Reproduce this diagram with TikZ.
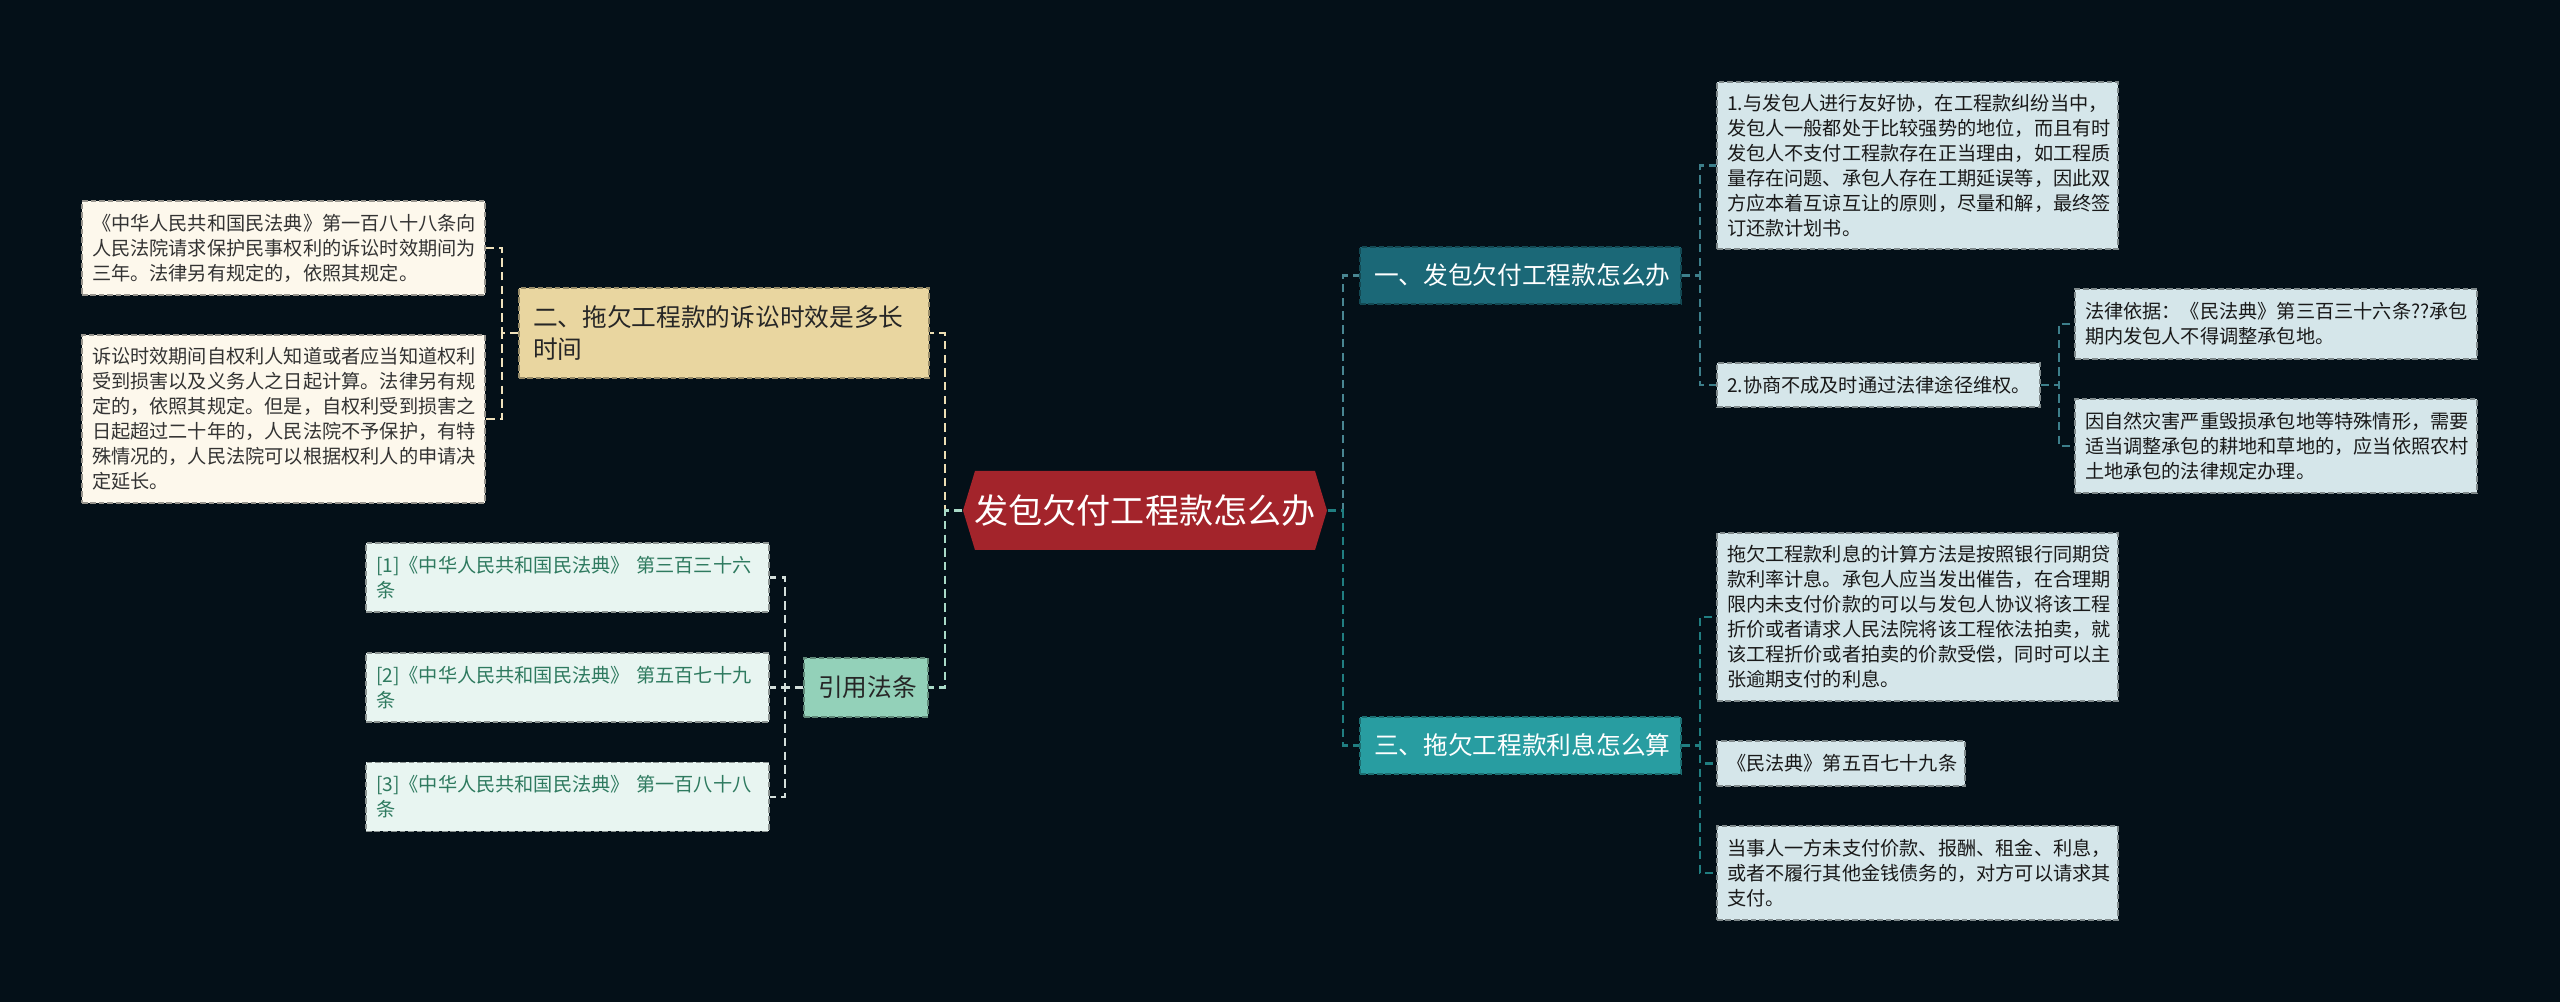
\documentclass[tikz,border=0pt]{standalone}
\usepackage{fontspec}
\setmainfont{Noto Sans CJK SC}
\usepackage{tikz}
\usetikzlibrary{calc, positioning}
\usepackage{xcolor}
\definecolor{bgDark}{RGB}{4, 16, 24}
\definecolor{ctrRed}{RGB}{163, 36, 43}
\definecolor{headOne}{RGB}{27, 104, 119}
\definecolor{headTwo}{RGB}{233, 214, 160}
\definecolor{headThree}{RGB}{40, 157, 161}
\definecolor{citeGreen}{RGB}{147, 209, 185}
\definecolor{leafCream}{RGB}{253, 248, 236}
\definecolor{leafMint}{RGB}{232, 245, 241}
\definecolor{leafBlue}{RGB}{213, 230, 234}
\definecolor{citeText}{RGB}{46, 122, 95}

\begin{document}
\begin{tikzpicture}[
  box/.style 2 args={minimum width=#1cm, minimum height=#2cm, text width={(#1-0.2)*1cm}},
  hbox/.style 2 args={minimum width=#1cm, minimum height=#2cm, text width={(#1-0.28)*1cm}},
  leaf/.style={draw, dashed, dash pattern=on 1.6pt off 0.8pt, line width=0.4pt,
    inner xsep=0.09cm, inner ysep=0pt, align=left,
    font=\fontsize{5.46pt}{7.1pt}\selectfont},
  head/.style={leaf, inner xsep=0.13cm, font=\fontsize{7.03pt}{9.1pt}\selectfont},
  link/.style={dashed, dash pattern=on 2.4pt off 1.5pt, line width=0.6pt},
]
  \useasboundingbox (0, 0) rectangle (25.6, 10.02);
  \fill[bgDark] (0, 0) rectangle (25.6, 10.02);

  % centre topic
  \node[minimum width=3.64cm, minimum height=0.79cm, inner xsep=0.1cm, text=white,
    font=\fontsize{9.7pt}{12pt}\selectfont,
    path picture={\fill[ctrRed]
      ($(path picture bounding box.north west)+(0.12, 0)$) --
      ($(path picture bounding box.north east)+(-0.12, 0)$) --
      ($(path picture bounding box.east)$) --
      ($(path picture bounding box.south east)+(-0.12, 0)$) --
      ($(path picture bounding box.south west)+(0.12, 0)$) --
      ($(path picture bounding box.west)$) -- cycle;}]
    (ctr) at (11.45, 4.915) {发包欠付工程款怎么办};

  % main branches
  \node[head, hbox={3.21}{0.57}, fill=headOne, draw=headOne!70!black, text=white]
    (h1) at (15.205, 7.265) {一、发包欠付工程款怎么办};
  \node[head, hbox={4.10}{0.90}, fill=headTwo, draw=headTwo!65!black, text=black!85]
    (h2) at (7.24, 6.69) {二、拖欠工程款的诉讼时效是多长\\时间};
  \node[head, hbox={3.21}{0.57}, fill=headThree, draw=headThree!70!black, text=white]
    (h3) at (15.205, 2.565) {三、拖欠工程款利息怎么算};
  \node[head, hbox={1.24}{0.59}, fill=citeGreen, draw=citeGreen!65!black, text=black!85]
    (cite) at (8.66, 3.145) {引用法条};

  % leaves of branch two
  \node[leaf, box={4.03}{0.94}, fill=leafCream, draw=leafCream!60!black, text=black!80]
    (a1) at (2.835, 7.54) {《中华人民共和国民法典》第一百八十八条向\\人民法院请求保护民事权利的诉讼时效期间为\\三年。法律另有规定的，依照其规定。};
  \node[leaf, box={4.03}{1.68}, fill=leafCream, draw=leafCream!60!black, text=black!80]
    (a2) at (2.835, 5.83) {诉讼时效期间自权利人知道或者应当知道权利\\受到损害以及义务人之日起计算。法律另有规\\定的，依照其规定。但是，自权利受到损害之\\日起超过二十年的，人民法院不予保护，有特\\殊情况的，人民法院可以根据权利人的申请决\\定延长。};

  % cited articles
  \node[leaf, box={4.03}{0.69}, fill=leafMint, draw=leafMint!60!black, text=citeText]
    (c1) at (5.675, 4.245) {[1]《中华人民共和国民法典》 第三百三十六\\条};
  \node[leaf, box={4.03}{0.69}, fill=leafMint, draw=leafMint!60!black, text=citeText]
    (c2) at (5.675, 3.145) {[2]《中华人民共和国民法典》 第五百七十九\\条};
  \node[leaf, box={4.03}{0.69}, fill=leafMint, draw=leafMint!60!black, text=citeText]
    (c3) at (5.675, 2.05) {[3]《中华人民共和国民法典》 第一百八十八\\条};

  % leaves of branch one
  \node[leaf, box={4.01}{1.67}, fill=leafBlue, draw=leafBlue!60!black, text=black!90]
    (b1) at (19.175, 8.365) {1.与发包人进行友好协，在工程款纠纷当中，\\发包人一般都处于比较强势的地位，而且有时\\发包人不支付工程款存在正当理由，如工程质\\量存在问题、承包人存在工期延误等，因此双\\方应本着互谅互让的原则，尽量和解，最终签\\订还款计划书。};
  \node[leaf, box={3.23}{0.44}, fill=leafBlue, draw=leafBlue!60!black, text=black!90]
    (b2) at (18.785, 6.17) {2.协商不成及时通过法律途径维权。};
  \node[leaf, box={4.02}{0.70}, fill=leafBlue, draw=leafBlue!60!black, text=black!90]
    (b2a) at (22.76, 6.78) {法律依据：《民法典》第三百三十六条??承包\\期内发包人不得调整承包地。};
  \node[leaf, box={4.02}{0.94}, fill=leafBlue, draw=leafBlue!60!black, text=black!90]
    (b2b) at (22.76, 5.56) {因自然灾害严重毁损承包地等特殊情形，需要\\适当调整承包的耕地和草地的，应当依照农村\\土地承包的法律规定办理。};

  % leaves of branch three
  \node[leaf, box={4.01}{1.68}, fill=leafBlue, draw=leafBlue!60!black, text=black!90]
    (d1) at (19.175, 3.85) {拖欠工程款利息的计算方法是按照银行同期贷\\款利率计息。承包人应当发出催告，在合理期\\限内未支付价款的可以与发包人协议将该工程\\折价或者请求人民法院将该工程依法拍卖，就\\该工程折价或者拍卖的价款受偿，同时可以主\\张逾期支付的利息。};
  \node[leaf, box={2.48}{0.45}, fill=leafBlue, draw=leafBlue!60!black, text=black!90]
    (d2) at (18.41, 2.385) {《民法典》第五百七十九条};
  \node[leaf, box={4.01}{0.94}, fill=leafBlue, draw=leafBlue!60!black, text=black!90]
    (d3) at (19.175, 1.29) {当事人一方未支付价款、报酬、租金、利息，\\或者不履行其他金钱债务的，对方可以请求其\\支付。};

  % connectors
  \draw[link, headOne!80!white] (ctr.east) -- ++(0.15, 0) |- (h1.west);
  \draw[link, headThree!80!black] (ctr.east) -- ++(0.15, 0) |- (h3.west);
  \draw[link, headTwo!80!white] (ctr.west) -- ++(-0.17, 0) |- (h2.east);
  \draw[link, citeGreen!80!white] (ctr.west) -- ++(-0.17, 0) |- (cite.east);
  \foreach \k in {a1, a2}
    \draw[link, headTwo!70!white] (h2.west) -- ++(-0.16, 0) |- (\k.east);
  \foreach \k in {c1, c2, c3}
    \draw[link, leafMint!80!gray] (cite.west) -- ++(-0.18, 0) |- (\k.east);
  \foreach \k in {b1, b2}
    \draw[link, headOne!85!white] (h1.east) -- ++(0.18, 0) |- (\k.west);
  \draw[link, headOne!85!white] (b2.east) -- ++(0.18, 0) |- (b2a.west);
  \draw[link, headOne!85!white] (b2.east) -- ++(0.18, 0) |- (b2b.west);
  \foreach \k in {d1, d2, d3}
    \draw[link, headThree!80!black] (h3.east) -- ++(0.18, 0) |- (\k.west);
\end{tikzpicture}
\end{document}
